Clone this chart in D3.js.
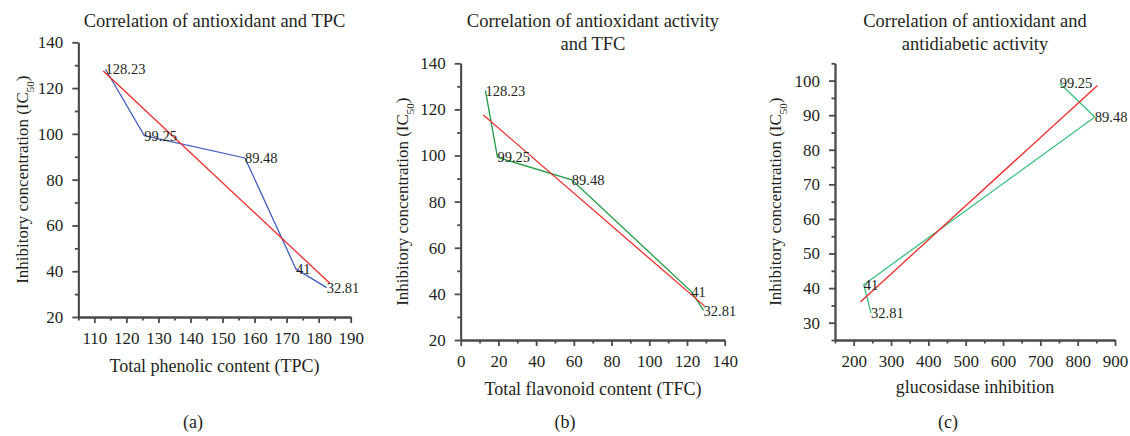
<!DOCTYPE html>
<html>
<head>
<meta charset="utf-8">
<script src="https://cdn.jsdelivr.net/npm/d3@7"></script>
<style>
  body { margin: 0; background: #fff; }
  svg { display: block; }
  .axis path, .axis line { stroke: #4a4a4a; stroke-width: 1.8; }
</style>
</head>
<body>
<svg id="chart" width="1130" height="436"></svg>
<script>
var serif = "'Liberation Serif', 'Times New Roman', serif";

// values
var labels = ["128.23", "99.25", "89.48", "41", "32.81"];
var ic50 = [128.23, 99.25, 89.48, 41, 32.81];

// (a) TPC
var tpcX = [113.5, 125.6, 157.0, 172.9, 182.5];
var tpcFit = [[112.8, 127.5], [183.5, 34.7]];
var tpcXTicks = [110, 120, 130, 140, 150, 160, 170, 180, 190];
var tpcYTicks = [20, 40, 60, 80, 100, 120, 140];

// (b) TFC
var tfcX = [13.1, 19.5, 58.9, 122.3, 128.8];
var tfcFit = [[12.0, 117.6], [129.2, 34.8]];
var tfcXTicks = [0, 20, 40, 60, 80, 100, 120, 140];
var tfcYTicks = [20, 40, 60, 80, 100, 120, 140];

// (c) glucosidase, only four samples
var glucX = [752, 846, 227, 246.5];
var glucY = [99.25, 89.48, 41, 32.81];
var glucLabels = ["99.25", "89.48", "41", "32.81"];
var glucFit = [[218, 36], [853, 98.6]];
var glucXTicks = [200, 300, 400, 500, 600, 700, 800, 900];
var glucYTicks = [30, 40, 50, 60, 70, 80, 90, 100];

var svg = d3.select("#chart").attr("font-family", serif);
svg.append("rect").attr("width", 1130).attr("height", 436).attr("fill", "#fff");

var panels = [
  {
    xs: tpcX, ys: ic50, labs: labels, fit: tpcFit, color: "#4560bd",
    xDom: [105, 190], yDom: [20, 140], xr: [78.3, 350.7], yr: [317, 42.3],
    xTicks: tpcXTicks, yTicks: tpcYTicks, xMinor: 5, yMinor: 10,
    title: ["Correlation of antioxidant and TPC"], xTitle: "Total phenolic content (TPC)",
    tag: "(a)", tagX: 193, cx: 214.5, yLabX: 22, xTitleY: 372
  },
  {
    xs: tfcX, ys: ic50, labs: labels, fit: tfcFit, color: "#1f9a45",
    xDom: [0, 140], yDom: [20, 140], xr: [460.7, 724.7], yr: [340, 63.3],
    xTicks: tfcXTicks, yTicks: tfcYTicks, xMinor: 10, yMinor: 10,
    title: ["Correlation of antioxidant activity", "and TFC"], xTitle: "Total flavonoid content (TFC)",
    tag: "(b)", tagX: 565, cx: 593, yLabX: 402, xTitleY: 395
  },
  {
    xs: glucX, ys: glucY, labs: glucLabels, fit: glucFit, color: "#3cbf7e",
    xDom: [150, 900], yDom: [25, 105], xr: [835, 1115], yr: [340, 63.3],
    xTicks: glucXTicks, yTicks: glucYTicks, xMinor: 50, yMinor: 5,
    title: ["Correlation of antioxidant and", "antidiabetic activity"], xTitle: "glucosidase inhibition",
    tag: "(c)", tagX: 948, cx: 975, yLabX: 775, xTitleY: 393
  }
];

function styleAxis(sel) {
  sel.attr("font-family", serif).attr("font-size", 17);
  sel.selectAll("text").attr("fill", "#231f20").attr("font-family", serif);
}

panels.forEach(function (p) {
  var x = d3.scaleLinear().domain(p.xDom).range(p.xr);
  var y = d3.scaleLinear().domain(p.yDom).range(p.yr);
  var g = svg.append("g");

  // minor ticks first, then the labelled ones on top
  var xMin = d3.range(p.xDom[0], p.xDom[1] + 0.001, p.xMinor).filter(function (v) { return p.xTicks.indexOf(v) < 0; });
  var yMin = d3.range(p.yDom[0], p.yDom[1] + 0.001, p.yMinor).filter(function (v) { return p.yTicks.indexOf(v) < 0; });

  g.append("g").attr("class", "axis").attr("transform", "translate(0," + p.yr[0] + ")")
    .call(d3.axisBottom(x).tickValues(xMin).tickSize(3.5).tickSizeOuter(0).tickFormat(""));
  g.append("g").attr("class", "axis").attr("transform", "translate(0," + p.yr[0] + ")")
    .call(d3.axisBottom(x).tickValues(p.xTicks).tickSize(6).tickSizeOuter(0).tickPadding(9))
    .call(styleAxis);
  g.append("g").attr("class", "axis").attr("transform", "translate(" + p.xr[0] + ",0)")
    .call(d3.axisLeft(y).tickValues(yMin).tickSize(3.5).tickSizeOuter(0).tickFormat(""));
  g.append("g").attr("class", "axis").attr("transform", "translate(" + p.xr[0] + ",0)")
    .call(d3.axisLeft(y).tickValues(p.yTicks).tickSize(6).tickSizeOuter(0).tickPadding(9))
    .call(styleAxis);

  // data line
  var pts = p.xs.map(function (v, i) { return [v, p.ys[i]]; });
  var line = d3.line().x(function (d) { return x(d[0]); }).y(function (d) { return y(d[1]); });
  g.append("path").attr("d", line(pts)).attr("fill", "none")
    .attr("stroke", p.color).attr("stroke-width", 1.3);

  // linear fit
  g.append("path").attr("d", line(p.fit)).attr("fill", "none")
    .attr("stroke", "#ee2b2b").attr("stroke-width", 1.3);

  g.selectAll("text.lab").data(pts).enter().append("text")
    .attr("class", "lab")
    .attr("x", function (d) { return x(d[0]); })
    .attr("y", function (d) { return y(d[1]); })
    .attr("dy", "0.35em")
    .attr("font-size", 14.5)
    .attr("fill", "#231f20")
    .text(function (d, i) { return p.labs[i]; });

  // titles
  p.title.forEach(function (t, i) {
    g.append("text").attr("x", p.cx).attr("y", 27 + i * 23)
      .attr("text-anchor", "middle").attr("font-size", 18.5).attr("fill", "#231f20").text(t);
  });

  g.append("text").attr("x", p.cx).attr("y", p.xTitleY)
    .attr("text-anchor", "middle").attr("font-size", 18).attr("fill", "#231f20").text(p.xTitle);

  var yl = g.append("text")
    .attr("transform", "translate(" + p.yLabX + "," + (p.yr[0] + p.yr[1]) / 2 + ") rotate(-90)")
    .attr("text-anchor", "middle").attr("dy", "0.35em").attr("font-size", 17).attr("fill", "#231f20");
  yl.append("tspan").text("Inhibitory concentration (IC");
  yl.append("tspan").attr("font-size", 11).attr("baseline-shift", "sub").text("50");
  yl.append("tspan").text(")");

  g.append("text").attr("x", p.tagX).attr("y", 428)
    .attr("text-anchor", "middle").attr("font-size", 18).attr("fill", "#231f20").text(p.tag);
});
</script>
</body>
</html>
